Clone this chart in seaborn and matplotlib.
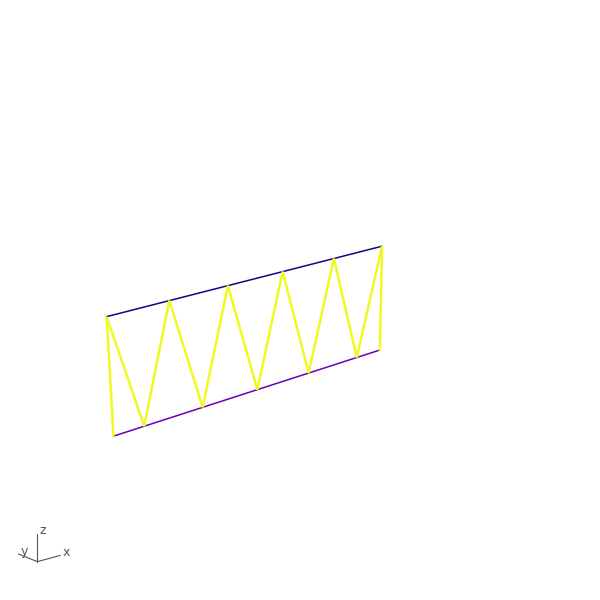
import numpy as np
import matplotlib
matplotlib.use('Agg')
import matplotlib.pyplot as plt
import seaborn as sns
from mpl_toolkits.mplot3d import proj3d

sns.set_style('white')

# ---- data ----
edge_x = [0, 1]
top_y = [0, 0]
top_z = [1, 1]
bottom_y = [0, 0]
bottom_z = [0, 0]
zig_x = [0, 0, 0.1, 0.2, 0.3, 0.4, 0.5, 0.6, 0.7, 0.8, 0.9, 1, 1]
zig_y = [0] * 13
zig_z = [0, 1, 0, 1, 0, 1, 0, 1, 0, 1, 0, 1, 0]
axis_names = ['x', 'y', 'z']

top_color = '#0d0887'
bottom_color = '#6a00b8'
zig_color = '#f0f921'

# ---- camera (matches reference view) ----
ELEV, AZIM = 19.39, -129.38

fig = plt.figure(figsize=(6, 6), dpi=100)
fig.patch.set_facecolor('white')
ax = fig.add_axes([0, 0, 1, 1], projection='3d')
ax.set_box_aspect((1, 1, 1))
ax.set_axis_off()
ax.plot(edge_x, top_y, top_z, color=top_color, lw=1.1)
ax.plot(edge_x, bottom_y, bottom_z, color=bottom_color, lw=1.1)
ax.plot(zig_x, zig_y, zig_z, color=zig_color, lw=1.8, solid_joinstyle='miter')
ax.view_init(ELEV, AZIM)
ax.set_proj_type('persp', focal_length=0.3818)
ax.set_xlim(0.5648, 1.9078)
ax.set_ylim(-0.0155, 1.3275)
ax.set_zlim(-1.9854, 1.8122)

# ---- orientation indicator (bottom-left) ----
ind = fig.add_axes([0, 0, 0.2, 0.2], projection='3d')
ind.set_box_aspect((1, 1, 1))
ind.set_axis_off()
ind.patch.set_alpha(0)
ind.view_init(ELEV, AZIM)
ind.set_proj_type('ortho')
ind.set_xlim(-1, 1)
ind.set_ylim(-1, 1)
ind.set_zlim(-1, 1)
fig.canvas.draw()
M = ind.get_proj()
xs, ys, _ = proj3d.proj_transform(np.array([0, 0.]), np.array([0, 0.]), np.array([0, 1.]), M)
pix = ind.transData.transform(np.column_stack([xs, ys]))
zlen = np.hypot(*(pix[1] - pix[0]))
scale = 28.0 / zlen
size = 0.2 * scale
cx, cy = 36 / 600, (600 - 563) / 600
ind.set_position([cx - size / 2, cy - size / 2, size, size])
axis_col = '#555555'
vecs = [(1, 0, 0), (0, 1, 0), (0, 0, 1)]
for vec in vecs:
    ind.plot([0, vec[0]], [0, vec[1]], [0, vec[2]], color=axis_col, lw=0.8)

# label positions: projected tips of the indicator axes
M = ind.get_proj()
vx = np.array([v[0] for v in vecs], float)
vy = np.array([v[1] for v in vecs], float)
vz = np.array([v[2] for v in vecs], float)
txs, tys, _ = proj3d.proj_transform(vx, vy, vz, M)
tips = ind.transData.transform(np.column_stack([txs, tys]))
W, H = fig.get_size_inches() * fig.dpi
for name, (px, py) in zip(axis_names, tips):
    fig.text((px + 2) / W, (py + 3) / H, name, color=axis_col, fontsize=9,
             ha='left', va='center')

fig.savefig('out.png', dpi=100, facecolor='white')
